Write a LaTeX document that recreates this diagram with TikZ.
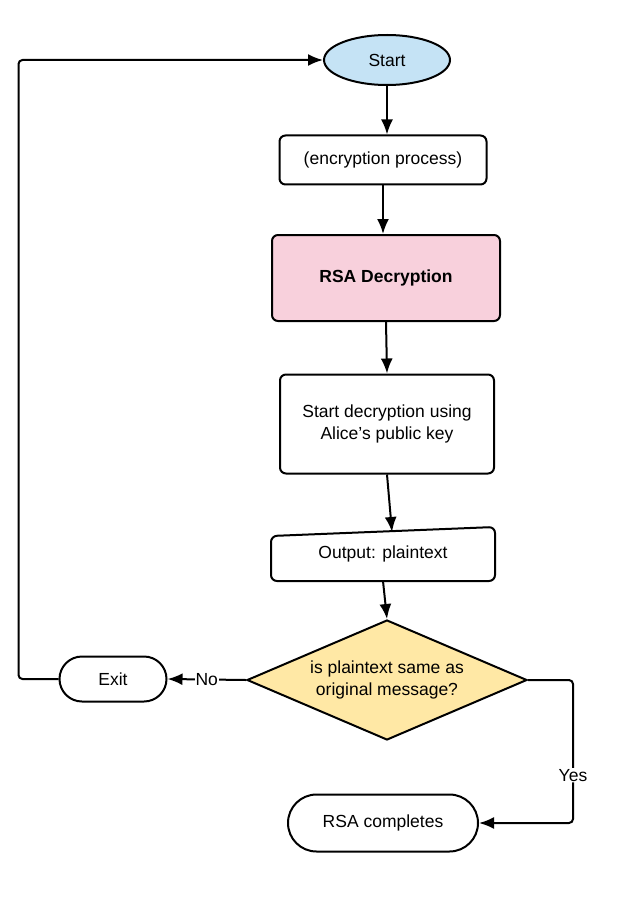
\documentclass[tikz,border=0pt]{standalone}
\usepackage{fontspec}
\setmainfont{Liberation Sans}
\usetikzlibrary{shapes.geometric,shapes.misc,arrows.meta,calc}
\definecolor{startblue}{HTML}{C5E3F5}
\definecolor{rsapink}{HTML}{F8D0DC}
\definecolor{decyellow}{HTML}{FFE8A5}
\begin{document}
\begin{tikzpicture}[x=1pt,y=-1pt,line width=2pt,
  font=\fontsize{17.5}{22}\selectfont,
  box/.style={draw,rounded corners=6pt,align=center,inner sep=0pt},
  stadium/.style={draw,rounded rectangle,inner sep=0pt},
  arr/.style={-{Latex[length=15pt,width=12pt]}},
  lbl/.style={fill=white,inner sep=1pt}]
\useasboundingbox (0,0) rectangle (629,912);
\node[draw,ellipse,fill=startblue,minimum width=126pt,minimum height=50pt,inner sep=0pt] (start) at (387,60) {Start};
\node[box,minimum width=207pt,minimum height=49pt] (enc) at (383,160) {(encryption process)};
\node[box,fill=rsapink,minimum width=228pt,minimum height=86pt,font=\fontsize{17.5}{22}\selectfont\bfseries] (rsa) at (386,278) {RSA Decryption};
\node[box,minimum width=214pt,minimum height=99pt] (dec) at (387,424) {Start decryption using\\Alice's public key};
\node[minimum width=222pt,minimum height=52pt,inner sep=0pt] (out) at (383,554) {Output: plaintext};
\draw[rounded corners=6pt] ([yshift=-9pt]out.north west) -- (out.north east) -- (out.south east) -- (out.south west) -- cycle;
\coordinate (outin) at (392,532);
\node[draw,diamond,fill=decyellow,minimum width=280pt,minimum height=120pt,aspect=2.333,inner sep=0pt,align=center] (dia) at (387,680) {is plaintext same as\\original message?};
\node[stadium,minimum width=107pt,minimum height=45pt] (exit) at (113,679) {Exit};
\node[stadium,minimum width=190pt,minimum height=57pt] (done) at (383,823) {RSA completes};
\draw[arr] (start.south) -- (start.south |- enc.north);
\draw[arr] (enc.south) -- (enc.south |- rsa.north);
\draw[arr] (rsa.south) -- (dec.north);
\draw[arr] (dec.south) -- (outin);
\draw[arr] (out.south) -- (dia.north);
\draw[arr] (dia.west) -- node[lbl] {No} (exit.east);
\draw[arr,rounded corners=4pt] (exit.west) -- ++(-40,0) |- (start.west);
\draw[arr,rounded corners=4pt] (dia.east) -- ++(45,0) |- node[lbl,pos=0.333] {Yes} (done.east);
\end{tikzpicture}
\end{document}
